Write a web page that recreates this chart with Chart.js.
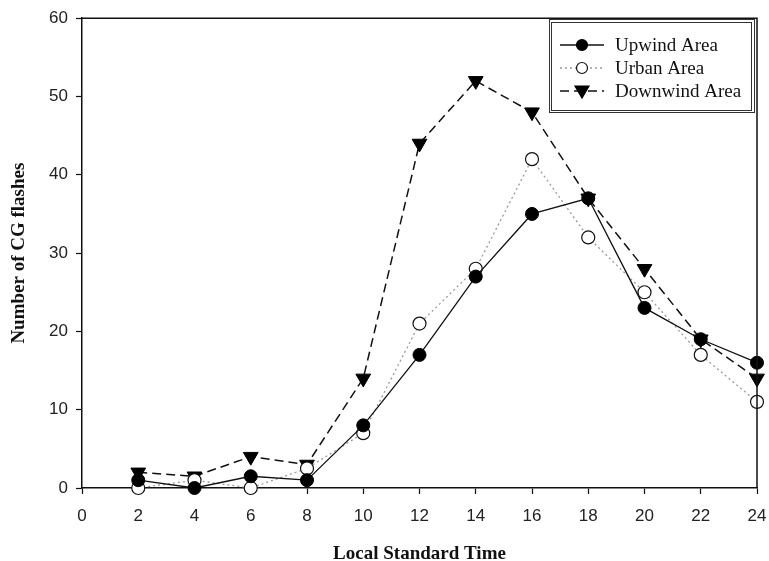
<!DOCTYPE html>
<html>
<head>
<meta charset="utf-8">
<script src="https://cdn.jsdelivr.net/npm/chart.js@4"></script>
<style>
  html, body { margin: 0; padding: 0; background: #fff; }
  #wrap { width: 769px; height: 561px; position: relative; }
</style>
</head>
<body>
<div id="wrap"><canvas id="chart"></canvas></div>
<script>
// hours (local standard time)
var hours = [2, 4, 6, 8, 10, 12, 14, 16, 18, 20, 22, 24];
var upwind = [1, 0, 1.5, 1, 8, 17, 27, 35, 37, 23, 19, 16];
var urban = [0, 1, 0, 2.5, 7, 21, 28, 42, 32, 25, 17, 11];
var downwind = [2, 1.5, 4, 3, 14, 44, 52, 48, 37, 28, 19, 14];
var seriesNames = ['Upwind Area', 'Urban Area', 'Downwind Area'];

function pts(arr) {
    return hours.map(function (h, i) { return { x: h, y: arr[i] }; });
}

// frame on top + right side
var framePlugin = {
    id: 'frame',
    afterDatasetsDraw: function (chart) {
        var a = chart.chartArea, ctx = chart.ctx;
        ctx.save();
        ctx.strokeStyle = '#111';
        ctx.lineWidth = 1.5;
        ctx.beginPath();
        ctx.moveTo(a.left, a.top);
        ctx.lineTo(a.right, a.top);
        ctx.lineTo(a.right, a.bottom);
        ctx.stroke();
        ctx.restore();
    }
};

// legend box drawn by hand (line sample + marker)
var legendPlugin = {
    id: 'boxLegend',
    afterDraw: function (chart) {
        var ctx = chart.ctx;
        ctx.save();
        ctx.fillStyle = '#fff';
        ctx.fillRect(549, 19, 206, 94);
        ctx.strokeStyle = '#333';
        ctx.lineWidth = 1;
        ctx.strokeRect(549.5, 19.5, 205, 93);
        ctx.strokeRect(551.5, 22.5, 200, 88);
        var rows = [45, 68, 91];
        chart.data.datasets.forEach(function (ds, i) {
            var y = rows[i];
            ctx.strokeStyle = ds.borderColor;
            ctx.lineWidth = ds.borderWidth;
            ctx.setLineDash(ds.borderDash || []);
            ctx.beginPath();
            ctx.moveTo(560, y);
            ctx.lineTo(604, y);
            ctx.stroke();
            ctx.setLineDash([]);
            ctx.fillStyle = ds.pointBackgroundColor;
            ctx.strokeStyle = ds.pointBorderColor;
            ctx.lineWidth = 1.2;
            ctx.beginPath();
            if (ds.pointStyle === 'triangle') {
                ctx.moveTo(575, y - 5);
                ctx.lineTo(589, y - 5);
                ctx.lineTo(582, y + 7);
                ctx.closePath();
            } else {
                ctx.arc(582, y, 5.5, 0, Math.PI * 2);
            }
            ctx.fill();
            ctx.stroke();
            ctx.fillStyle = '#111';
            ctx.font = '19px "Liberation Serif"';
            ctx.textBaseline = 'middle';
            ctx.fillText(seriesNames[i], 615, y + 1);
        });
        ctx.restore();
    }
};

var ctx = document.getElementById('chart').getContext('2d');
new Chart(ctx, {
    type: 'line',
    data: {
        datasets: [
            {
                label: seriesNames[0],
                data: pts(upwind),
                borderColor: '#111',
                borderWidth: 1.3,
                pointStyle: 'circle',
                pointRadius: 6.5,
                pointBackgroundColor: '#000',
                pointBorderColor: '#000',
                pointBorderWidth: 1,
                clip: false
            },
            {
                label: seriesNames[1],
                data: pts(urban),
                borderColor: '#9a9a9a',
                borderWidth: 1.3,
                borderDash: [2, 3],
                pointStyle: 'circle',
                pointRadius: 6.5,
                pointBackgroundColor: '#fff',
                pointBorderColor: '#111',
                pointBorderWidth: 1.2,
                clip: false
            },
            {
                label: seriesNames[2],
                data: pts(downwind),
                borderColor: '#111',
                borderWidth: 1.5,
                borderDash: [9, 5],
                pointStyle: 'triangle',
                pointRotation: 180,
                pointRadius: 8.5,
                pointBackgroundColor: '#000',
                pointBorderColor: '#000',
                pointBorderWidth: 1,
                clip: false
            }
        ]
    },
    options: {
        responsive: true,
        maintainAspectRatio: false,
        animation: false,
        events: [],
        layout: { padding: { top: 17, right: 12, left: 0, bottom: 0 } },
        plugins: {
            legend: { display: false },
            tooltip: { enabled: false }
        },
        scales: {
            x: {
                type: 'linear',
                min: 0,
                max: 24,
                border: { color: '#111', width: 1.5 },
                grid: { drawOnChartArea: false, color: '#111', tickLength: 6, tickWidth: 1.2 },
                ticks: {
                    stepSize: 2,
                    autoSkip: false,
                    maxRotation: 0,
                    padding: 12,
                    color: '#222',
                    font: { family: '"Liberation Sans"', size: 17 }
                },
                title: {
                    display: true,
                    text: 'Local Standard Time',
                    color: '#111',
                    font: { family: '"Liberation Serif"', size: 19, weight: 'bold', lineHeight: 0.7 },
                    padding: { top: 12, bottom: 0 }
                },
                afterFit: function (scale) {
                    scale.height = 73;
                    scale.paddingLeft = 0;
                    scale.paddingRight = 0;
                }
            },
            y: {
                min: 0,
                max: 60,
                border: { color: '#111', width: 1.5 },
                grid: { drawOnChartArea: false, color: '#111', tickLength: 6, tickWidth: 1.2 },
                ticks: {
                    stepSize: 10,
                    padding: 8,
                    color: '#222',
                    font: { family: '"Liberation Sans"', size: 17 }
                },
                title: {
                    display: true,
                    text: 'Number of CG flashes',
                    color: '#111',
                    font: { family: '"Liberation Serif"', size: 19, weight: 'bold' },
                    padding: { top: 8, bottom: 0 }
                },
                afterFit: function (scale) { scale.width = 82; }
            }
        }
    },
    plugins: [framePlugin, legendPlugin]
});
</script>
</body>
</html>
